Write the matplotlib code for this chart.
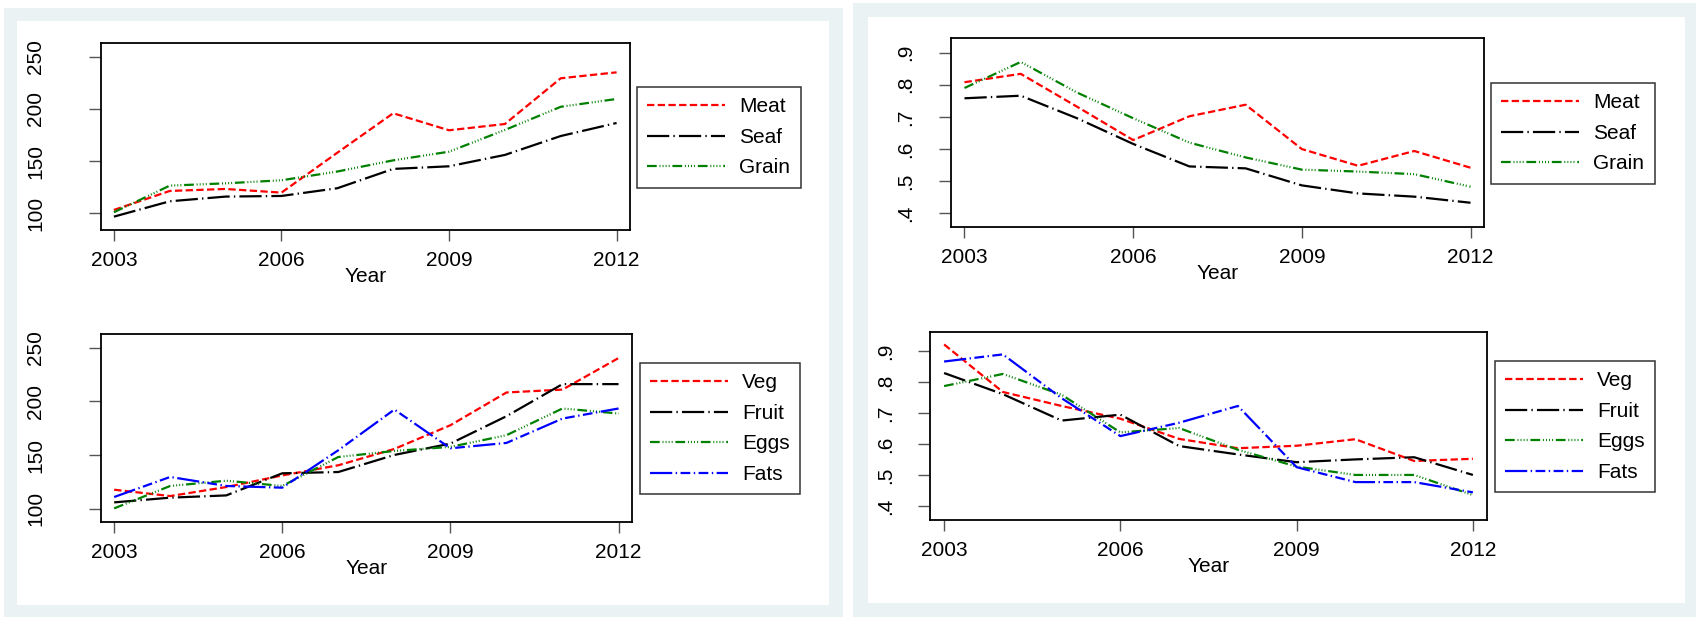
import numpy as np
import matplotlib
matplotlib.use("Agg")
import matplotlib.pyplot as plt
from matplotlib.patches import Rectangle

plt.rcParams['font.family'] = ['Liberation Sans', 'DejaVu Sans']
plt.rcParams['lines.scale_dashes'] = False

years = [2003, 2004, 2005, 2006, 2007, 2008, 2009, 2010, 2011, 2012]
xticks = [2003, 2006, 2009, 2012]

# price index, 2003 = 100
meat_idx = [103.2, 121.4, 123.3, 119.8, 158.0, 195.8, 179.5, 185.5, 229.3, 235.0]
seaf_idx = [96.8, 111.5, 116.0, 116.6, 124.0, 142.5, 145.0, 155.9, 174.0, 186.5]
grain_idx = [101.0, 126.5, 128.7, 131.6, 140.0, 150.7, 159.0, 179.8, 202.0, 209.5]
veg_idx = [117.7, 111.8, 120.2, 131.0, 140.5, 155.7, 177.8, 208.3, 211.0, 240.4]
fruit_idx = [105.9, 110.3, 112.4, 133.0, 134.2, 150.1, 160.7, 186.2, 216.1, 216.1]
eggs_idx = [100.3, 121.2, 126.1, 121.2, 148.2, 153.8, 157.6, 168.5, 193.4, 188.7]
fats_idx = [110.9, 129.6, 121.2, 119.6, 154.5, 192.4, 156.3, 161.3, 184.0, 193.4]

# shares
meat_sh = [0.808, 0.834, 0.732, 0.628, 0.702, 0.738, 0.600, 0.548, 0.594, 0.542]
seaf_sh = [0.758, 0.766, 0.696, 0.616, 0.546, 0.540, 0.487, 0.462, 0.452, 0.433]
grain_sh = [0.790, 0.871, 0.776, 0.696, 0.620, 0.574, 0.536, 0.530, 0.522, 0.483]
veg_sh = [0.921, 0.768, 0.723, 0.682, 0.617, 0.587, 0.595, 0.616, 0.546, 0.553]
fruit_sh = [0.829, 0.761, 0.676, 0.695, 0.594, 0.567, 0.542, 0.551, 0.558, 0.501]
eggs_sh = [0.787, 0.826, 0.759, 0.638, 0.652, 0.582, 0.528, 0.501, 0.501, 0.436]
fats_sh = [0.866, 0.889, 0.748, 0.626, 0.669, 0.723, 0.526, 0.478, 0.478, 0.445]

idx_ticks = [100, 150, 200, 250]
sh_ticks = [0.4, 0.5, 0.6, 0.7, 0.8, 0.9]
sh_labels = ['.4', '.5', '.6', '.7', '.8', '.9']

# line styles, stata-like
st_dash = dict(color='#ff0000', dashes=(5.3, 2.4))
st_ldd = dict(color='black', dashes=(16, 3, 1, 3))
st_dd = dict(color='#008000', dashes=(7, 2, 0.7, 1.5, 0.7, 1.5, 0.7, 1.5, 0.7, 2))
st_lddd = dict(color='#0000ff', dashes=(16, 2.5, 1, 2.5, 7, 2.5, 1, 2.5, 7, 2.5, 1, 2.5))

W, H = 1696, 617
fig = plt.figure(figsize=(W / 100, H / 100), dpi=100)
fig.patch.set_facecolor('white')

light = '#eaf2f3'


def panel(x0, y0, x1, y1, ix0, iy0, ix1, iy1):
    fig.patches.append(Rectangle((x0 / W, 1 - y1 / H), (x1 - x0) / W, (y1 - y0) / H,
                                 transform=fig.transFigure, fc=light, ec='none', zorder=-10))
    fig.patches.append(Rectangle((ix0 / W, 1 - iy1 / H), (ix1 - ix0) / W, (iy1 - iy0) / H,
                                 transform=fig.transFigure, fc='white', ec='none', zorder=-9))


panel(4, 8, 843, 617, 17, 21, 829, 605)
panel(853, 3, 1696, 617, 868, 17, 1685, 603)


def make_ax(l, t, r, b, ylim, yticks, ylabels, ypad, series, leg_xy):
    ax = fig.add_axes([l / W, 1 - b / H, (r - l) / W, (b - t) / H])
    for vals, name, st in series:
        ax.plot(years, vals, lw=1.6, label=name, **st)
    ax.set_xlim(2002.76, 2012.24)
    ax.set_ylim(*ylim)
    ax.set_xticks(xticks)
    ax.set_yticks(yticks)
    ax.set_yticklabels(ylabels, rotation=90, va='center')
    ax.tick_params(axis='x', length=8, width=1, color='#555555', labelsize=15, pad=7)
    ax.tick_params(axis='y', length=9, width=1, color='#555555', labelsize=15, pad=ypad)
    for s in ax.spines.values():
        s.set_linewidth(1.3)
    ax.set_xlabel('Year', fontsize=15, labelpad=-2)
    leg = ax.legend(loc='upper left', bbox_to_anchor=(leg_xy[0] / W, 1 - leg_xy[1] / H),
                    bbox_transform=fig.transFigure, fontsize=15, frameon=True,
                    fancybox=False, borderaxespad=0, borderpad=0.5, handlelength=3.7,
                    handletextpad=0.7, labelspacing=0.55)
    leg.get_frame().set_edgecolor('black')
    leg.get_frame().set_linewidth(1.1)
    return ax


make_ax(100.5, 43.3, 630, 230, (84.0, 262.8), idx_ticks, [str(v) for v in idx_ticks], 31,
        [(meat_idx, 'Meat', st_dash), (seaf_idx, 'Seaf', st_ldd), (grain_idx, 'Grain', st_dd)],
        (637, 87))
make_ax(100.7, 334, 632, 521.7, (87.9, 262.8), idx_ticks, [str(v) for v in idx_ticks], 31,
        [(veg_idx, 'Veg', st_dash), (fruit_idx, 'Fruit', st_ldd), (eggs_idx, 'Eggs', st_dd),
         (fats_idx, 'Fats', st_lddd)],
        (640, 363))
make_ax(951, 38.3, 1484, 226.7, (0.3585, 0.9446), sh_ticks, sh_labels, 17,
        [(meat_sh, 'Meat', st_dash), (seaf_sh, 'Seaf', st_ldd), (grain_sh, 'Grain', st_dd)],
        (1491, 83))
make_ax(930, 331.7, 1487, 520, (0.356, 0.962), sh_ticks, sh_labels, 16,
        [(veg_sh, 'Veg', st_dash), (fruit_sh, 'Fruit', st_ldd), (eggs_sh, 'Eggs', st_dd),
         (fats_sh, 'Fats', st_lddd)],
        (1495, 361))

fig.savefig('out.png', dpi=100, facecolor='white')
